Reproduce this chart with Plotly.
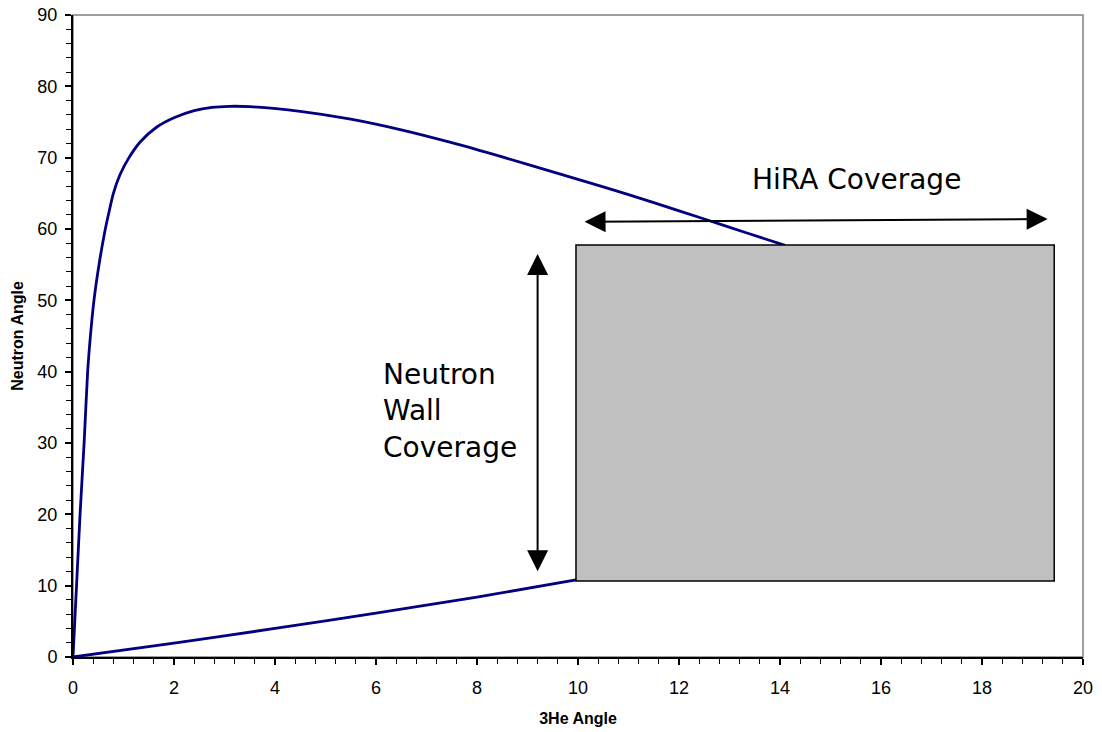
import plotly.graph_objects as go

# Upper branch of the kinematic curve (3He angle, neutron angle)
upper_x = [0, 0.07, 0.14, 0.22, 0.29, 0.345, 0.415, 0.515, 0.64, 0.72, 0.80, 0.93, 1.10, 1.33,
           1.66, 2.0, 2.4, 2.75, 3.1, 3.5, 4.5, 5.5, 6.5, 7.5, 8.5, 9.5, 10.5, 11.5, 12.5, 13.3, 14.1]
upper_y = [0, 10, 20, 30, 40, 45, 50, 55, 60, 62.6, 65, 67.6, 69.9, 72.2,
           74.3, 75.6, 76.6, 77.05, 77.2, 77.15, 76.5, 75.4, 73.9, 72.1, 70.1, 68.0, 65.9, 63.7, 61.4, 59.55, 57.7]

# Lower branch
lower_x = [0, 2, 4, 6, 8, 9.96]
lower_y = [0, 1.95, 4.0, 6.15, 8.4, 10.8]

# Coverage box (HiRA x Neutron Wall)
box_x = [9.96, 19.43]
box_y = [10.65, 57.76]

x_ticks = [0, 2, 4, 6, 8, 10, 12, 14, 16, 18, 20]
y_ticks = [0, 10, 20, 30, 40, 50, 60, 70, 80, 90]

NAVY = "#000080"

fig = go.Figure()
fig.add_trace(go.Scatter(x=upper_x, y=upper_y, mode="lines",
                         line=dict(color=NAVY, width=2.8, shape="spline", smoothing=0.8),
                         showlegend=False, hoverinfo="skip"))
fig.add_trace(go.Scatter(x=lower_x, y=lower_y, mode="lines",
                         line=dict(color=NAVY, width=2.8, shape="spline", smoothing=0.8),
                         showlegend=False, hoverinfo="skip"))

# plot-area border (gray top/right)
fig.add_shape(type="rect", xref="paper", yref="paper", x0=0, x1=1, y0=0, y1=1,
              line=dict(color="#808080", width=1.5), layer="below")

# grey coverage rectangle drawn over the curve
fig.add_shape(type="rect", x0=box_x[0], x1=box_x[1], y0=box_y[0], y1=box_y[1],
              fillcolor="#C0C0C0", line=dict(color="black", width=1.5), layer="above")

# HiRA double arrow
fig.add_annotation(x=19.3, y=61.4, ax=10.1, ay=61.0, xref="x", yref="y", axref="x", ayref="y",
                   text="", showarrow=True, arrowside="end+start",
                   arrowhead=2, startarrowhead=2, arrowsize=2.1, startarrowsize=2.1,
                   arrowwidth=2, arrowcolor="black", standoff=0, startstandoff=0)
# Neutron wall double arrow
fig.add_annotation(x=9.2, y=56.5, ax=9.2, ay=11.8, xref="x", yref="y", axref="x", ayref="y",
                   text="", showarrow=True, arrowside="end+start",
                   arrowhead=2, startarrowhead=2, arrowsize=2.1, startarrowsize=2.1,
                   arrowwidth=2, arrowcolor="black", standoff=0, startstandoff=0)

fig.add_annotation(x=15.52, y=66.9, xref="x", yref="y", text="HiRA Coverage", showarrow=False,
                   font=dict(family="DejaVu Sans", size=28, color="black"),
                   xanchor="center", yanchor="middle")
fig.add_annotation(x=6.09, y=34.5, xref="x", yref="y",
                   text="Neutron<br>Wall<br>Coverage", showarrow=False, align="left",
                   font=dict(family="DejaVu Sans", size=28, color="black"),
                   xanchor="left", yanchor="middle")

fig.update_xaxes(range=[0, 20], tickvals=x_ticks, ticktext=[str(v) for v in x_ticks],
                 showgrid=False, zeroline=False, showline=True, linecolor="black", linewidth=2,
                 ticks="outside", ticklen=6, tickwidth=1.5, tickcolor="black", automargin=False,
                 ticklabelstandoff=7,
                 minor=dict(dtick=0.4, tick0=0, ticks="outside", ticklen=5, tickwidth=1, tickcolor="black",
                            showgrid=False),
                 tickfont=dict(family="Liberation Sans", size=18, color="black"),
                 title=dict(text="<b>3He Angle</b>", font=dict(family="Liberation Sans", size=16, color="black"),
                            standoff=16))
fig.update_yaxes(range=[0, 90], tickvals=y_ticks, ticktext=[str(v) for v in y_ticks],
                 showgrid=False, zeroline=False, showline=True, linecolor="black", linewidth=2,
                 ticks="outside", ticklen=6, tickwidth=1.5, tickcolor="black", automargin=False,
                 ticklabelstandoff=4,
                 minor=dict(dtick=2, tick0=0, ticks="outside", ticklen=5, tickwidth=1, tickcolor="black",
                            showgrid=False),
                 tickfont=dict(family="Liberation Sans", size=18, color="black"),
                 title=dict(text="<b>Neutron Angle</b>", font=dict(family="Liberation Sans", size=16, color="black"),
                            standoff=10))

fig.update_layout(width=1102, height=732, margin=dict(l=73, r=19, t=15, b=75, autoexpand=False),
                  plot_bgcolor="white", paper_bgcolor="white", showlegend=False)

fig.write_html("out.html", config={"displayModeBar": False},
               post_script="document.body.style.margin='0px';")
